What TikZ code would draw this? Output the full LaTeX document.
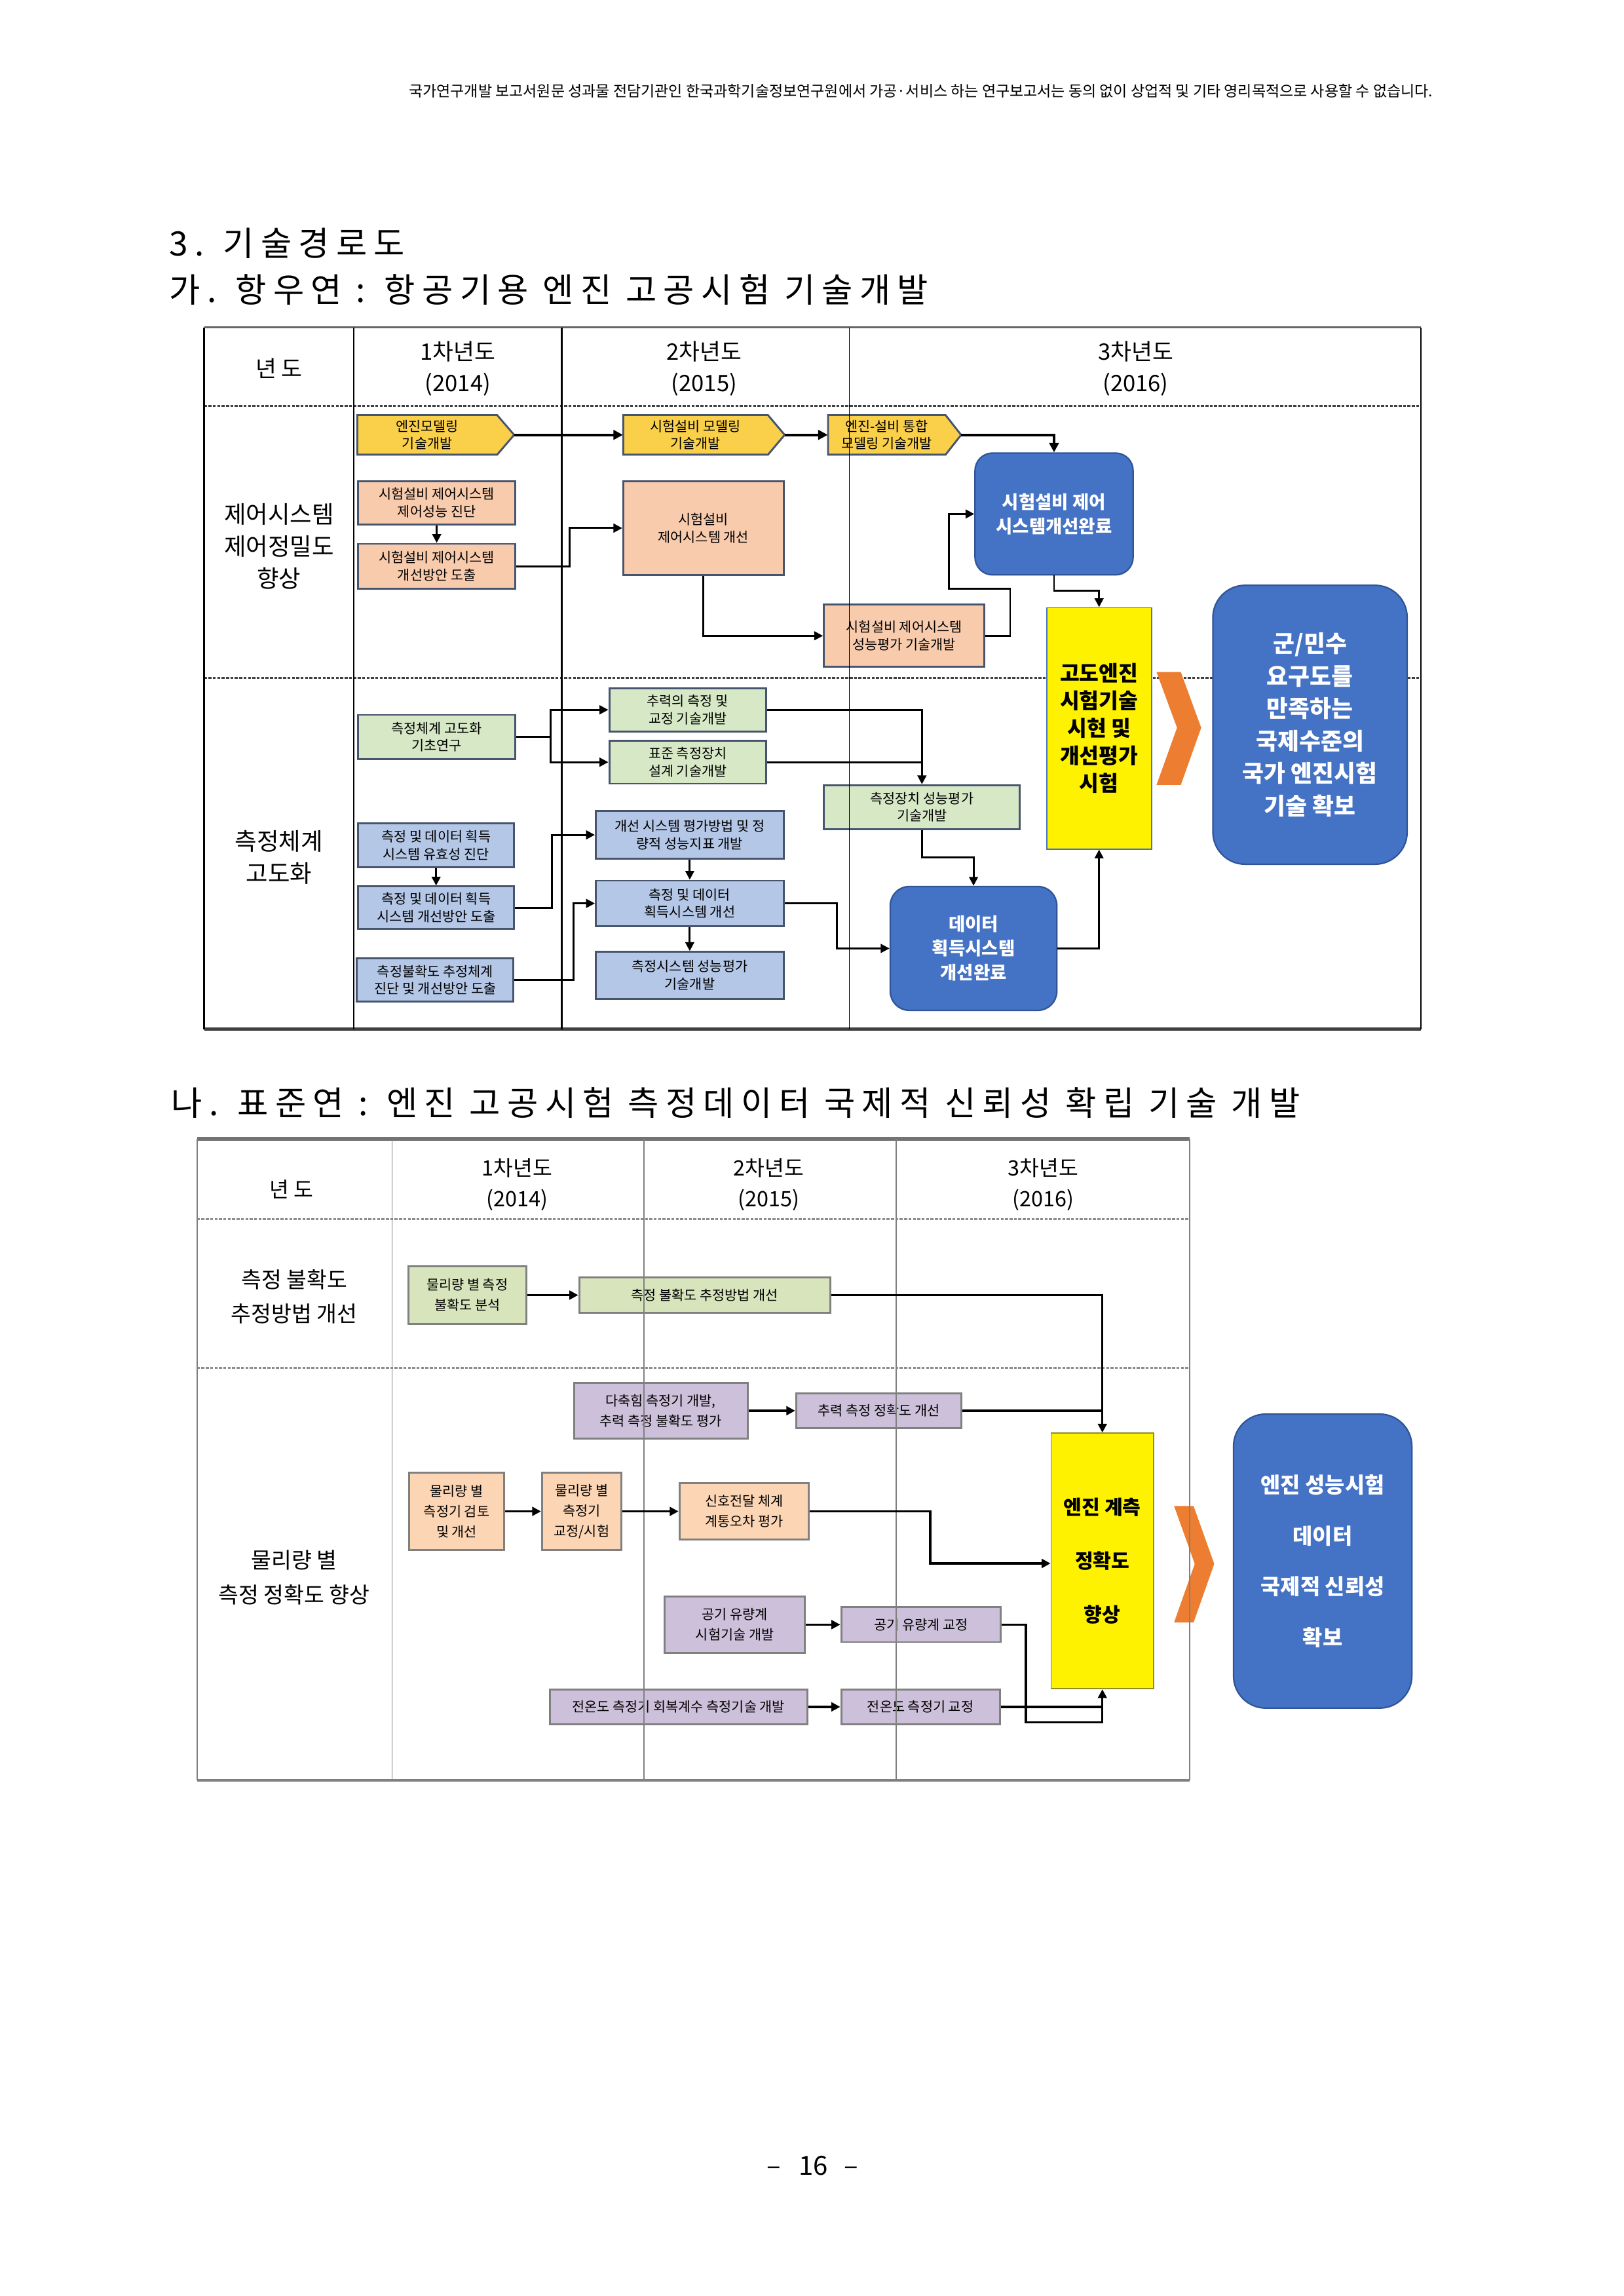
\documentclass[tikz,border=0pt]{standalone}
\usepackage{fontspec}
\setmainfont{Noto Sans CJK KR}
\newfontfamily\titlefont[LetterSpace=20]{Noto Sans CJK KR}
\usetikzlibrary{arrows.meta}
\definecolor{penfill}{RGB}{250,208,75}
\definecolor{orfill}{RGB}{248,203,173}
\definecolor{grfill}{RGB}{214,232,198}
\definecolor{lbfill}{RGB}{180,199,231}
\definecolor{bluefill}{RGB}{68,114,196}
\definecolor{blueline}{RGB}{47,85,151}
\definecolor{boxline}{RGB}{70,84,110}
\definecolor{chev}{RGB}{237,125,49}
\definecolor{grtwo}{RGB}{216,228,188}
\definecolor{putwo}{RGB}{204,192,218}
\definecolor{ortwo}{RGB}{252,213,180}
\definecolor{linetwo}{RGB}{128,128,128}
\definecolor{ybord}{RGB}{140,140,40}
\begin{document}
\begin{tikzpicture}[x=1pt,y=-1pt,
  boxa/.style={draw=boxline, line width=1.3pt, inner sep=0pt, align=center, font=\fontsize{9.3}{12}\selectfont},
  obox/.style={boxa, fill=orfill},
  gbox/.style={boxa, fill=grfill},
  lbox/.style={boxa, fill=lbfill},
  pentfill/.style={fill=penfill, draw=boxline, line width=1.3pt, line join=miter},
  pent/.style={inner sep=0pt, align=center, font=\fontsize{9.3}{12}\selectfont},
  rbox/.style={fill=bluefill, draw=blueline, line width=1pt, inner sep=0pt, text=white, align=center, font=\bfseries\fontsize{12.3}{16.5}\selectfont},
  ybox/.style={fill=yellow, draw=bluefill, line width=0.8pt, inner sep=0pt, align=center},
  boxb/.style={draw=linetwo, line width=1.3pt, inner sep=0pt, align=center, font=\fontsize{9.3}{14}\selectfont},
  gboxb/.style={boxb, fill=grtwo},
  pboxb/.style={boxb, fill=putwo},
  oboxb/.style={boxb, fill=ortwo},
  conn/.style={line width=1.3pt, -{Triangle[length=6pt,width=6pt]}},
  connt/.style={line width=1.7pt, -{Triangle[length=6.5pt,width=6.5pt]}},
  plainc/.style={line width=1.3pt},
  connb/.style={line width=1.5pt, -{Triangle[length=6pt,width=6pt]}},
  plainb/.style={line width=1.5pt},
  hdone/.style={inner sep=0pt, align=center, font=\fontsize{15.5}{21.4}\selectfont},
  hdtwo/.style={inner sep=0pt, align=center, font=\fontsize{14.5}{21}\selectfont},
  labone/.style={inner sep=0pt, align=center, font=\fontsize{16.3}{22}\selectfont},
  labtwo/.style={inner sep=0pt, align=center, font=\fontsize{15}{23.5}\selectfont},
  ttl/.style={inner sep=0pt, anchor=west, font=\titlefont\fontsize{23}{23}\selectfont},
  dash1/.style={line width=1.3pt, draw=black!75, dash pattern=on 2pt off 1pt},
  dash2/.style={line width=1.6pt, draw=black!45, dash pattern=on 2pt off 1pt}
]
\useasboundingbox (0,0) rectangle (1109,1568);
\fill[white] (0,0) rectangle (1109,1568);

% header
\node[inner sep=0pt, font=\fontsize{10.3}{11}\selectfont] (hdr) at (629,62) {국가연구개발 보고서원문 성과물 전담기관인 한국과학기술정보연구원에서 가공·서비스 하는 연구보고서는 동의 없이 상업적 및 기타 영리목적으로 사용할 수 없습니다.};

% titles
\node[ttl] (tA) at (115.5,166) {3. 기술경로도};
\node[ttl] (tB) at (115.5,198) {가. 항우연 : 항공기용 엔진 고공시험 기술개발};
\node[ttl] (tC) at (117,753) {나. 표준연 : 엔진 고공시험 측정데이터 국제적 신뢰성 확립 기술 개발};

% ================= diagram 1 table =================
\draw[dash1] (139.4,277.3) -- (970.7,277.3);
\draw[dash1] (139.4,462.9) -- (970.7,462.9);

\node[hdone] (yrA) at (190.6,251.4) {년 도};
\node[hdone] (cA1) at (312.7,251.7) {1차년도\\(2014)};
\node[hdone] (cA2) at (481,251.7) {2차년도\\(2015)};
\node[hdone] (cA3) at (775.7,251.7) {3차년도\\(2016)};
\node[labone] (labA1) at (190.6,373) {제어시스템\\제어정밀도\\향상};
\node[labone] (labA2) at (190.6,585.4) {측정체계\\고도화};

% pentagons
\filldraw[pentfill] (244.1,283.5) -- (339.6,283.5) -- (351.2,297) -- (339.6,310.5) -- (244.1,310.5) -- cycle;
\node[pent, minimum width=95.5pt, minimum height=27pt] (p1) at (291.85,297) {엔진모델링\\기술개발};
\coordinate (p1tip) at (351.2,297);
\filldraw[pentfill] (425.7,283.5) -- (524.6,283.5) -- (536,297) -- (524.6,310.5) -- (425.7,310.5) -- cycle;
\node[pent, minimum width=98.9pt, minimum height=27pt] (p2) at (475.15,297) {시험설비 모델링\\기술개발};
\coordinate (p2tip) at (536,297);
\filldraw[pentfill] (565.6,283.5) -- (645.9,283.5) -- (656.5,297) -- (645.9,310.5) -- (565.6,310.5) -- cycle;
\node[pent, minimum width=80.3pt, minimum height=27pt] (p3) at (605.75,297) {엔진-설비 통합\\모델링 기술개발};
\coordinate (p3tip) at (656.5,297);

% orange boxes
\node[obox, minimum width=107.4pt, minimum height=29.4pt] (o1) at (298.3,343.4) {시험설비 제어시스템\\제어성능 진단};
\node[obox, minimum width=107.4pt, minimum height=30.6pt] (o2) at (298.3,386.7) {시험설비 제어시스템\\개선방안 도출};
\node[obox, minimum width=109.6pt, minimum height=63.9pt] (o3) at (480.5,360.65) {시험설비\\제어시스템 개선};
\node[obox, minimum width=109.6pt, minimum height=42.4pt] (o4) at (617.6,434.2) {시험설비 제어시스템\\성능평가 기술개발};

% green boxes
\node[gbox, minimum width=107.4pt, minimum height=30.1pt] (g1) at (298.3,503.25) {측정체계 고도화\\기초연구};
\node[gbox, minimum width=107.1pt, minimum height=29.7pt] (g2) at (469.75,484.75) {추력의 측정 및\\교정 기술개발};
\node[gbox, minimum width=107.1pt, minimum height=29.4pt] (g3) at (469.75,520.5) {표준 측정장치\\설계 기술개발};
\node[gbox, minimum width=133.9pt, minimum height=30pt] (g4) at (629.75,551.2) {측정장치 성능평가\\기술개발};

% light blue boxes
\node[lbox, minimum width=106.6pt, minimum height=29.9pt] (l1) at (297.9,577.15) {측정 및 데이터 획득\\시스템 유효성 진단};
\node[lbox, minimum width=106.6pt, minimum height=29pt] (l2) at (297.9,619.9) {측정 및 데이터 획득\\시스템 개선방안 도출};
\node[lbox, minimum width=106.9pt, minimum height=29.7pt] (l3) at (297.25,669.25) {측정불확도 추정체계\\진단 및 개선방안 도출};
\node[lbox, minimum width=128.3pt, minimum height=32.7pt] (l4) at (471.15,570.15) {개선 시스템 평가방법 및 정\\량적 성능지표 개발};
\node[lbox, minimum width=128.3pt, minimum height=31.1pt] (l5) at (471.15,616.95) {측정 및 데이터\\획득시스템 개선};
\node[lbox, minimum width=128.3pt, minimum height=31.9pt] (l6) at (471.15,666.05) {측정시스템 성능평가\\기술개발};

% blue rounded boxes
\node[rbox, rounded corners=12pt, minimum width=108pt, minimum height=83.2pt] (b1) at (720,351) {시험설비 제어\\시스템개선완료};
\node[rbox, rounded corners=13pt, minimum width=113.8pt, minimum height=84.6pt] (b2) at (665,647.7) {데이터\\획득시스템\\개선완료};

% yellow tall box
\node[ybox, minimum width=71.5pt, minimum height=164.8pt, font=\bfseries\fontsize{14.5}{18.8}\selectfont] (Y1) at (750.75,497.4) {고도엔진\\시험기술\\시현 및\\개선평가\\시험};

% chevron 1
\fill[chev] (790,459) -- (806.6,459) -- (820.5,497) -- (806.6,536) -- (790,536) -- (804,497) -- cycle;

% big blue result
\node[rbox, rounded corners=22pt, minimum width=132.7pt, minimum height=190.5pt, font=\bfseries\fontsize{16}{22.2}\selectfont] (B2) at (894.85,494.95) {군/민수\\요구도를\\만족하는\\국제수준의\\국가 엔진시험\\기술 확보};

% table lines diagram 1 (on top)
\draw[line width=1.3pt, black!60] (139.4,223.6) -- (970.7,223.6);
\draw[line width=2pt, black!75] (139.4,702.8) -- (970.7,702.8);
\draw[line width=1pt] (139.4,223.6) -- (139.4,702.8);
\draw[line width=1pt] (970.7,223.6) -- (970.7,702.8);
\draw[line width=0.9pt] (241.6,223.6) -- (241.6,702.8);
\draw[line width=1.2pt] (383.8,223.6) -- (383.8,702.8);
\draw[line width=0.8pt] (580.2,223.6) -- (580.2,702.8);

% connectors diagram 1
\draw[connt] (p1tip) -- (p2.west);
\draw[connt] (p2tip) -- (p3.west);
\draw[connt] (p3tip) -| (b1.north);
\draw[conn] (o1.south) -- (o2.north);
\draw[conn] (o2.east) -- (389.2,386.7) |- (o3.west);
\draw[conn] (o3.south) |- (o4.west);
\draw[conn] (o4.east) -- (690,434.2) -- (690,402) -- (648,402) |- (b1.west);
\draw[conn] (b1.south) -- (720,403.6) -| (Y1.north);
\coordinate (gsplit) at (376.1,503.25);
\draw[plainc] (g1.east) -- (gsplit);
\draw[conn] (gsplit) |- (g2.west);
\draw[conn] (gsplit) |- (g3.west);
\draw[conn] (g2.east) -| (g4.north);
\draw[plainc] (g3.east) -- (g3.east -| g4.north);
\draw[conn] (g4.south) -- (629.75,585.7) -| (b2.north);
\draw[conn] (b2.east) -| (Y1.south);
\draw[conn] (l1.south) -- (l2.north);
\draw[conn] (l2.east) -- (376.9,619.9) |- (l4.west);
\draw[conn] (l3.east) -- (391.8,669.25) |- (l5.west);
\draw[conn] (l4.south) -- (l5.north);
\draw[conn] (l5.south) -- (l6.north);
\draw[conn] (l5.east) -- (571.7,616.95) |- (b2.west);

% ================= diagram 2 =================
\draw[dash2] (134.6,832.5) -- (812.8,832.5);
\draw[dash2] (134.6,934.2) -- (812.8,934.2);

\node[hdtwo] (yrB) at (199,812) {년 도};
\node[hdtwo] (cB1) at (353.2,809) {1차년도\\(2014)};
\node[hdtwo] (cB2) at (525.2,809) {2차년도\\(2015)};
\node[hdtwo] (cB3) at (712.7,809) {3차년도\\(2016)};
\node[labtwo] (labB1) at (201,885.4) {측정 불확도\\추정방법 개선};
\node[labtwo] (labB2) at (201,1077.3) {물리량 별\\측정 정확도 향상};

\node[gboxb, minimum width=80.5pt, minimum height=39.3pt] (q1) at (319.15,884.45) {물리량 별 측정\\불확도 분석};
\node[gboxb, minimum width=171.6pt, minimum height=24pt] (q2) at (481.4,884.5) {측정 불확도 추정방법 개선};
\node[pboxb, minimum width=118.4pt, minimum height=38pt] (r1) at (451.4,963.4) {다축힘 측정기 개발,\\추력 측정 불확도 평가};
\node[pboxb, minimum width=113pt, minimum height=23.8pt] (r2) at (600.3,963.4) {추력 측정 정확도 개선};
\node[oboxb, minimum width=64.8pt, minimum height=53.1pt] (s1) at (311.9,1032.15) {물리량 별\\측정기 검토\\및 개선};
\node[oboxb, minimum width=54.2pt, minimum height=53.1pt] (s2) at (397.3,1032.15) {물리량 별\\측정기\\교정/시험};
\node[oboxb, minimum width=88.5pt, minimum height=38.5pt] (s3) at (508.35,1032.15) {신호전달 체계\\계통오차 평가};
\node[pboxb, minimum width=95.6pt, minimum height=38.3pt] (t1) at (501.9,1109.5) {공기 유량계\\시험기술 개발};
\node[pboxb, minimum width=108.9pt, minimum height=23.8pt] (t2) at (629.05,1109.5) {공기 유량계 교정};
\node[pboxb, minimum width=175.8pt, minimum height=23.9pt] (u1) at (463.5,1165.65) {전온도 측정기 회복계수 측정기술 개발};
\node[pboxb, minimum width=108.3pt, minimum height=23.9pt] (u2) at (628.75,1165.65) {전온도 측정기 교정};

\node[fill=yellow, draw=ybord, line width=0.8pt, inner sep=0pt, align=center, minimum width=70pt, minimum height=174.5pt, font=\bfseries\fontsize{13.5}{36.6}\selectfont] (Y2) at (753,1066) {엔진 계측\\정확도\\향상};

\fill[chev] (802,1028.5) -- (815.3,1028.5) -- (829.4,1068) -- (815.3,1108) -- (802,1108) -- (816.1,1068) -- cycle;

\node[rbox, rounded corners=22pt, minimum width=121.8pt, minimum height=200.8pt, font=\bfseries\fontsize{14.7}{34.7}\selectfont] (B3) at (903.5,1066.1) {엔진 성능시험\\데이터\\국제적 신뢰성\\확보};

% table lines diagram 2
\draw[line width=2.5pt, black!55] (134.6,777.6) -- (812.8,777.6);
\draw[line width=2pt, black!50] (134.6,1215.9) -- (812.8,1215.9);
\foreach \xx in {134.6,267.8,439.8,612.3,812.8} {
  \draw[line width=0.8pt, black!50] (\xx,777.6) -- (\xx,1215.9);
}

% connectors diagram 2
\draw[connb] (q1.east) -- (q1.east -| q2.west);
\draw[connb] (q2.east) -| (Y2.north);
\draw[connb] (r1.east) -- (r2.west);
\draw[plainb] (r2.east) -- (r2.east -| Y2.north);
\draw[connb] (s1.east) -- (s2.west);
\draw[connb] (s2.east) -- (s3.west);
\draw[connb] (s3.east) -- (635.5,1032.15) -- (635.5,1067.7) -- (Y2.west |- 0,1067.7);
\draw[connb] (t1.east) -- (t2.west);
\draw[plainb] (t2.east) -- (700.8,1109.5) -- (700.8,1176.3) -- (753,1176.3) -- (753,1165.65);
\draw[connb] (u1.east) -- (u2.west);
\draw[connb] (u2.east) -| (Y2.south);

% page number
\node[inner sep=0pt, font=\fontsize{18}{18}\selectfont] (pg) at (555,1479) {–\hspace{12pt}16\hspace{11pt}–};
\end{tikzpicture}
\end{document}
